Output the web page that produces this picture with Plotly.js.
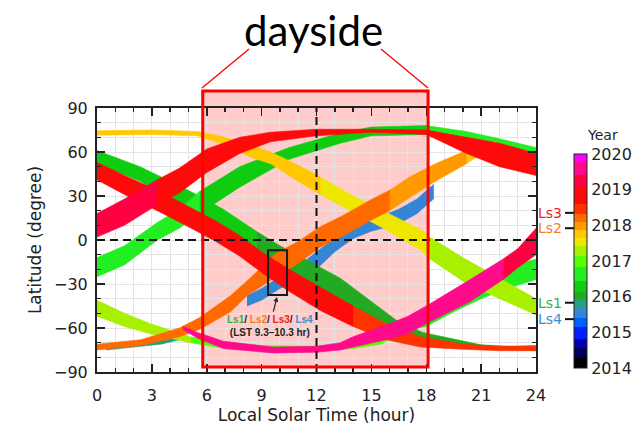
<!DOCTYPE html>
<html><head><meta charset="utf-8">
<script src="https://cdn.plot.ly/plotly-3.0.1.min.js"></script>
<style>html,body{margin:0;padding:0;background:#fff}#chart{width:641px;height:427px}</style>
</head><body><div id="chart"></div>
<script>
// ---------------- DATA ----------------
const xTicks = [0, 3, 6, 9, 12, 15, 18, 21, 24];
const yTicks = [-90, -60, -30, 0, 30, 60, 90];
const yearTicks = [2014, 2015, 2016, 2017, 2018, 2019, 2020];
const yearBounds = [2014, 2014.27, 2014.55, 2014.82, 2015.14, 2015.41, 2015.68, 2015.91, 2016.14, 2016.45, 2016.82, 2017.14, 2017.41, 2017.64, 2017.86, 2018.09, 2018.32, 2018.59, 2019.05, 2019.41, 2019.77, 2020];
const yearColors = ['#000000', '#00005a', '#0000b4', '#0020ff', '#0060ff', '#3385d6', '#22a080', '#22aa22', '#10cc10', '#22ee22', '#55ff00', '#a8f000', '#eee800', '#ffc800', '#ff9900', '#ff6a00', '#ff3300', '#ff0a0a', '#ff0040', '#ff0a8a', '#ff00ff'];

// Periapsis tracks: local solar time (hour), upper / lower latitude edge (deg), year
const t1Lst = [0, 2.4, 4.5, 5.6, 7.3, 8.2, 9.8, 11.0, 12.2, 13.5, 14.9, 16.0, 17.1, 18.5, 20.2, 21.8];
const t1Hi  = [-71, -68, -60, -53, -38, -28, -9, -1, 9, 17, 27, 34, 43, 52, 61, 67];
const t1Lo  = [-75, -72, -66, -61, -49, -38, -25, -16, -5, 3, 13, 20, 29, 40, 52, 65];
const t1Yr  = [2018.2, 2018.2, 2018.2, 2018.2, 2018.2, 2018.2, 2018.2, 2018.2, 2018.2, 2018.2, 2018.2, 2017.95, 2017.95, 2017.95, 2017.75, 2017.75];

const t2Lst = [0, 3.0, 5.5, 7.0, 8.5, 9.5, 11.0, 12.2, 14.0, 15.8, 17.7, 18.2, 20.0, 22.0, 24.0];
const t2Hi  = [74.5, 75, 74, 70, 64, 60, 51, 43, 30, 19, 7, 2, -12, -26, -40];
const t2Lo  = [71.5, 72, 71, 65, 56, 52, 40, 31, 19, 7, -7, -13, -28, -40, -51];
const t2Yr  = [2017.75, 2017.75, 2017.75, 2017.75, 2017.75, 2017.75, 2017.75, 2017.5, 2017.5, 2017.5, 2017.5, 2017.3, 2017.3, 2017.3, 2017.3];

const t3Lst = [8.2, 9.0, 10.0, 11.0, 12.0, 13.0, 14.0, 15.0, 16.5, 17.5, 18.4];
const t3Hi  = [-38, -33, -25, -18, -8, 1, 9, 14, 21, 28, 38];
const t3Lo  = [-45, -41, -33, -27, -20, -8, 1, 6, 11, 18, 28];
const t3Yr  = [2015.5, 2015.5, 2015.5, 2015.5, 2015.5, 2015.5, 2015.5, 2015.5, 2015.5, 2015.5, 2015.5];

const t4Lst = [0.5, 2.0, 3.5, 4.5];
const t4Hi  = [-72, -70, -67, -65];
const t4Lo  = [-75, -73, -71, -68];
const t4Yr  = [2015.8, 2015.8, 2015.8, 2015.8];

const t5Lst = [0, 1.5, 3.3, 5.0, 6.5, 7.8, 9.1, 10.5, 12.2, 14.0, 15.8, 17.7, 20.0, 22.0, 24.0];
const t5Hi  = [53, 44, 34, 23, 13, 3, -9, -20, -32, -45, -57, -66, -71, -72.5, -72];
const t5Lo  = [41, 31, 20, 9, -1, -11, -23, -35, -48, -59, -68, -73, -74.5, -75.5, -75.5];
const t5Yr  = [2018.8, 2018.8, 2018.8, 2018.8, 2018.8, 2018.8, 2018.8, 2018.8, 2018.8, 2018.45, 2018.45, 2018.45, 2018.45, 2018.45, 2018.45];

const t6Lst = [0, 2.35, 4.0, 5.6, 6.9, 8.7, 10.0, 11.5, 13.3, 14.9, 16.4, 17.8, 21.0, 24.0];
const t6Hi  = [61, 50, 40, 30, 21, 6, -4, -14, -26, -41, -55, -63, -71.5, -73.5];
const t6Lo  = [52, 40, 28, 17, 8, -8, -18, -28, -40, -55, -63, -67, -74, -75.5];
const t6Yr  = [2016.3, 2016.3, 2016.3, 2016.3, 2016.3, 2016.0, 2016.0, 2016.0, 2016.0, 2016.0, 2016.0, 2016.0, 2016.0, 2016.0];

const t7Lst = [0, 1.5, 3.3, 4.5, 6.0, 7.8, 9.5, 12.0, 15.0, 18.0, 20.2, 22.0, 24.0];
const t7Hi  = [18, 28, 41, 49, 62, 70, 73.5, 75.5, 75.5, 75, 70, 66, 59];
const t7Lo  = [2, 10, 24, 32, 46, 59, 67, 71, 73.5, 72, 59, 50, 44];
const t7Yr  = [2019.2, 2019.2, 2018.8, 2018.8, 2018.8, 2018.8, 2018.8, 2018.8, 2018.8, 2018.8, 2018.8, 2018.8, 2018.8];

const t8aLst = [16.0, 17.0, 18.0, 19.5, 21.0, 22.2, 24.0];
const t8aHi  = [-58, -54, -49, -38, -28, -19, -13];
const t8aLo  = [-62, -61, -59, -49, -40, -34, -27];
const t8aYr  = [2016.7, 2016.7, 2016.7, 2016.7, 2016.7, 2016.7, 2016.7];

const t8bLst = [0, 1.5, 3.3, 4.5, 5.6, 7.8, 10.5, 13.3, 15.0, 18.0, 20.2, 22.0, 24.0];
const t8bHi  = [-12, -4, 12, 21, 33, 50, 63, 73, 77, 78, 74, 69, 63];
const t8bLo  = [-25, -17, 0, 8, 18, 36, 55, 66, 71, 72, 68, 60, 55];
const t8bYr  = [2016.7, 2016.7, 2016.7, 2016.7, 2016.3, 2016.3, 2016.3, 2016.3, 2016.3, 2016.6, 2016.6, 2016.6, 2016.6];

const t9Lst = [4.7, 5.5, 6.9, 9.6, 12.0, 13.3, 14.0, 15.8, 17.0, 18.0, 20.4, 22.2, 23.0, 24.0];
const t9Hi  = [-59, -63, -69, -73, -72.5, -70, -66, -58, -52, -45, -27, -13, -6, 8];
const t9Lo  = [-61, -67, -74, -77, -76.5, -75, -73, -68, -64, -57, -42, -27, -19, -10];
const t9Yr  = [2019.6, 2019.6, 2019.6, 2019.6, 2019.6, 2019.6, 2019.6, 2019.6, 2019.6, 2019.6, 2019.6, 2019.2, 2019.2, 2019.2];

const t10Lst = [0, 1.5, 2.9, 5.1, 6.5, 9.0, 12.0, 14.0, 15.5, 16.7];
const t10Hi  = [-41, -50, -57, -66, -69, -72, -72.5, -71, -66, -58];
const t10Lo  = [-52, -59, -64, -70, -73, -75, -75.5, -74, -71, -63];
const t10Yr  = [2017.25, 2017.25, 2017.25, 2017.0, 2017.0, 2017.0, 2017.0, 2017.0, 2017.0, 2017.0];

const lsNames = ['Ls3', 'Ls2', 'Ls1', 'Ls4'];
const lsYears = [2018.35, 2017.92, 2015.83, 2015.37];
const daysideLst = [5.78, 18.1];
const boxLst = [9.35, 10.39];
const boxLat = [-37.5, -7];
const noteLines = ['Ls1/ Ls2/ Ls3/ Ls4', '(LST 9.3\u201310.3 hr)'];
const noteTarget = [9.84, -38.9];

// ---------------- STYLE ----------------
const lsColors = {Ls1: '#3cb043', Ls2: '#f07f20', Ls3: '#e8251f', Ls4: '#3a8fd0'};
const W = 641, H = 427, M = {l: 97, r: 105, t: 108, b: 55};
const PW = W - M.l - M.r, PH = H - M.t - M.b;
const xRange = [0, 24], yRange = [-90, 90];
const cbTopPx = 154, cbBotPx = 368;
const px2paperX = px => (px - M.l) / PW;
const px2paperY = py => (M.t + PH - py) / PH;
const yearToPx = yr => cbBotPx - (yr - yearBounds[0]) / (yearBounds[yearBounds.length - 1] - yearBounds[0]) * (cbBotPx - cbTopPx);

function yearColor(y) {
  for (let i = 0; i < yearColors.length; i++) {
    if (y >= yearBounds[i] && y < yearBounds[i + 1]) return yearColors[i];
  }
  return yearColors[yearColors.length - 1];
}
const span = yearBounds[yearBounds.length - 1] - yearBounds[0];
const colorscale = [];
yearColors.forEach((c, i) => {
  colorscale.push([(yearBounds[i] - yearBounds[0]) / span, c]);
  colorscale.push([(yearBounds[i + 1] - yearBounds[0]) / span, c]);
});

const tracks = [
  [t1Lst, t1Hi, t1Lo, t1Yr], [t2Lst, t2Hi, t2Lo, t2Yr], [t3Lst, t3Hi, t3Lo, t3Yr],
  [t4Lst, t4Hi, t4Lo, t4Yr], [t5Lst, t5Hi, t5Lo, t5Yr], [t6Lst, t6Hi, t6Lo, t6Yr],
  [t7Lst, t7Hi, t7Lo, t7Yr], [t8aLst, t8aHi, t8aLo, t8aYr], [t8bLst, t8bHi, t8bLo, t8bYr],
  [t9Lst, t9Hi, t9Lo, t9Yr], [t10Lst, t10Hi, t10Lo, t10Yr]
];

const pieces = [];
tracks.forEach(([lst, hi, lo, yr]) => {
  let a = 0;
  while (a < lst.length - 1) {
    const c = yearColor(yr[a]);
    let b = a + 1;
    while (b < lst.length - 1 && yearColor(yr[b]) === c) b++;
    const xs = [], ys = [];
    for (let i = a; i <= b; i++) { xs.push(lst[i]); ys.push(hi[i]); }
    for (let i = b; i >= a; i--) { xs.push(lst[i]); ys.push(lo[i]); }
    pieces.push({year: yr[a], color: c, x: xs, y: ys});
    a = b;
  }
});
pieces.sort((p, q) => p.year - q.year);

const traces = pieces.map(p => ({
  type: 'scatter', mode: 'lines', x: p.x, y: p.y, fill: 'toself',
  fillcolor: p.color, line: {color: p.color, width: 0.6},
  hoverinfo: 'skip', showlegend: false
}));

traces.push({
  type: 'scatter', mode: 'markers', x: [-50], y: [-500], showlegend: false, hoverinfo: 'skip',
  marker: {
    color: [yearBounds[0]], cmin: yearBounds[0], cmax: yearBounds[yearBounds.length - 1],
    colorscale: colorscale, showscale: true,
    colorbar: {
      x: px2paperX(574), xanchor: 'left', xpad: 0, ypad: 0,
      y: px2paperY((cbTopPx + cbBotPx) / 2), yanchor: 'middle',
      len: cbBotPx - cbTopPx, lenmode: 'pixels', thickness: 13, thicknessmode: 'pixels',
      outlinewidth: 1, outlinecolor: '#222',
      tickvals: yearTicks, ticktext: yearTicks.map(String), ticks: '', ticklen: 0,
      tickfont: {family: 'DejaVu Sans', size: 16, color: '#222'}
    }
  }
});

const fontTick = {family: 'DejaVu Sans', size: 16, color: '#222'};
const gridC = '#e4e4e4';

const shapes = [
  // dayside fill (below traces)
  {type: 'rect', xref: 'paper', yref: 'paper', layer: 'below',
   x0: (daysideLst[0] - xRange[0]) / (xRange[1] - xRange[0]), x1: (daysideLst[1] - xRange[0]) / (xRange[1] - xRange[0]),
   y0: px2paperY(367), y1: px2paperY(91), fillcolor: 'rgba(255,0,0,0.2)', line: {width: 0}},
  // dashed reference lines
  {type: 'line', xref: 'x', yref: 'y', x0: 12, x1: 12, y0: yRange[0], y1: yRange[1], layer: 'above',
   line: {color: '#111', width: 2, dash: '8px,5px'}},
  {type: 'line', xref: 'x', yref: 'y', x0: xRange[0], x1: xRange[1], y0: 0, y1: 0, layer: 'above',
   line: {color: '#111', width: 2, dash: '8px,5px'}},
  // LST box
  {type: 'rect', xref: 'x', yref: 'y', x0: boxLst[0], x1: boxLst[1], y0: boxLat[0], y1: boxLat[1], layer: 'above',
   line: {color: '#1a1a1a', width: 2}},
  // dayside border
  {type: 'rect', xref: 'paper', yref: 'paper', layer: 'above',
   x0: (daysideLst[0] - xRange[0]) / (xRange[1] - xRange[0]), x1: (daysideLst[1] - xRange[0]) / (xRange[1] - xRange[0]),
   y0: px2paperY(367), y1: px2paperY(91), line: {color: '#ff0000', width: 3}},
  // connectors from title
  {type: 'line', xref: 'paper', yref: 'paper', x0: px2paperX(249), y0: px2paperY(49), x1: px2paperX(202), y1: px2paperY(88),
   line: {color: '#ff0000', width: 1.3}},
  {type: 'line', xref: 'paper', yref: 'paper', x0: px2paperX(381), y0: px2paperY(49), x1: px2paperX(428), y1: px2paperY(88),
   line: {color: '#ff0000', width: 1.3}}
];

const annotations = [
  {xref: 'paper', yref: 'paper', x: px2paperX(313), y: px2paperY(30), text: 'dayside', showarrow: false,
   xanchor: 'center', yanchor: 'middle', font: {family: 'Lato', size: 42, color: '#000'}},
  {xref: 'paper', yref: 'paper', x: px2paperX(602), y: px2paperY(135), text: 'Year', showarrow: false,
   xanchor: 'center', yanchor: 'middle', font: {family: 'DejaVu Sans', size: 14, color: '#222'}},
  {xref: 'x', yref: 'y', x: noteTarget[0], y: noteTarget[1], text: '', showarrow: true, ax: -4, ay: 16,
   arrowhead: 2, arrowsize: 0.8, arrowwidth: 1.2, arrowcolor: '#222'},
  {xref: 'x', yref: 'y', x: 9.46, y: -58.5, showarrow: false, xanchor: 'center', yanchor: 'middle',
   text: noteLines[0].split('/ ').map(s => '<span style="color:' + lsColors[s] + '">' + s + '</span>').join('/ ') + '<br>' + noteLines[1],
   font: {family: 'Liberation Sans', size: 10, color: '#222', weight: 'bold'}}
];

lsNames.forEach((n, i) => {
  const py = yearToPx(lsYears[i]);
  annotations.push({xref: 'paper', yref: 'paper', x: px2paperX(564), y: px2paperY(py), text: n, showarrow: false,
    xanchor: 'right', yanchor: 'middle', font: {family: 'DejaVu Sans', size: 14, color: lsColors[n]}});
  shapes.push({type: 'line', xref: 'paper', yref: 'paper', x0: px2paperX(565), x1: px2paperX(578),
    y0: px2paperY(py), y1: px2paperY(py), line: {color: '#111', width: 2}});
});

const layout = {
  width: W, height: H, margin: M,
  paper_bgcolor: '#ffffff', plot_bgcolor: 'rgba(0,0,0,0)',
  showlegend: false,
  xaxis: {
    range: xRange, tickvals: xTicks, ticks: 'inside', ticklen: 8, tickwidth: 1.5, tickcolor: '#222',
    showline: true, linecolor: '#222', linewidth: 2, mirror: 'ticks',
    showgrid: true, gridcolor: gridC, gridwidth: 1, zeroline: false,
    minor: {dtick: 1, ticks: 'inside', ticklen: 4, tickcolor: '#222', showgrid: true, gridcolor: gridC},
    tickfont: fontTick, ticklabelstandoff: 8,
    title: {text: 'Local Solar Time (hour)', font: {family: 'DejaVu Sans', size: 17, color: '#222'}, standoff: 4}
  },
  yaxis: {
    range: yRange, tickvals: yTicks, ticks: 'inside', ticklen: 8, tickwidth: 1.5, tickcolor: '#222',
    showline: true, linecolor: '#222', linewidth: 2, mirror: 'ticks',
    showgrid: true, gridcolor: gridC, gridwidth: 1, zeroline: false,
    minor: {dtick: 10, ticks: 'inside', ticklen: 4, tickcolor: '#222', showgrid: true, gridcolor: gridC},
    tickfont: fontTick, ticklabelstandoff: 4,
    title: {text: 'Latitude (degree)', font: {family: 'DejaVu Sans', size: 17, color: '#222'}, standoff: 8}
  },
  shapes: shapes,
  annotations: annotations
};

Plotly.newPlot('chart', traces, layout, {staticPlot: true, displayModeBar: false});
</script></body></html>
